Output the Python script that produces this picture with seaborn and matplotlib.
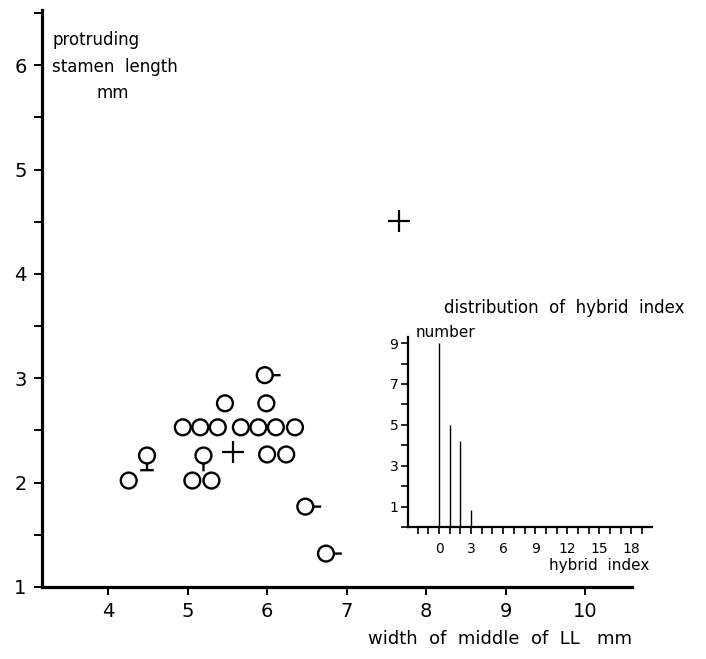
import pandas as pd
import seaborn as sns
import matplotlib.pyplot as plt
from matplotlib.path import Path
from matplotlib.ticker import MultipleLocator

# main scatter: width of middle of LL (mm) vs protruding stamen length (mm)
leaf_width = [4.26, 4.49, 5.06, 5.30, 5.20,
              4.94, 5.16, 5.38, 5.67, 5.89, 6.11, 6.35,
              5.47, 5.99, 6.00, 6.24,
              5.97, 6.48, 6.74]
stamen_length = [2.02, 2.26, 2.02, 2.02, 2.26,
                 2.53, 2.53, 2.53, 2.53, 2.53, 2.53, 2.53,
                 2.76, 2.76, 2.27, 2.27,
                 3.03, 1.77, 1.32]
symbol = ['plain', 'female', 'plain', 'plain', 'stem',
          'plain', 'plain', 'plain', 'plain', 'plain', 'plain', 'plain',
          'plain', 'plain', 'plain', 'plain',
          'dash', 'dash', 'dash']

# the two '+' points
plus_width = [5.57, 7.66]
plus_length = [2.29, 4.51]

# inset: distribution of hybrid index
hybrid_index = [0, 1, 2, 3]
hybrid_count = [9, 5, 4.2, 0.85]

scatter_df = pd.DataFrame({'width': leaf_width, 'length': stamen_length, 'symbol': symbol})
hist_df = pd.DataFrame({'index': hybrid_index, 'count': hybrid_count})


def glyph(*strokes):
    # unit circle plus extra strokes, padded so every glyph gets the same scale
    parts = [Path.unit_circle()]
    for s in strokes:
        parts.append(Path(s, [Path.MOVETO] + [Path.LINETO] * (len(s) - 1)))
    parts.append(Path([(2, 2)], [Path.MOVETO]))
    parts.append(Path([(-2, -2)], [Path.MOVETO]))
    return Path.make_compound_path(*parts)


markers = {
    'plain': glyph(),
    'dash': glyph([(1, 0), (2, 0)]),
    'stem': glyph([(0, -1), (0, -2)]),
    'female': glyph([(0, -1), (0, -1.85)], [(-0.85, -1.85), (0.85, -1.85)]),
}

sns.set_style('white')
plt.rcParams['font.family'] = ['DejaVu Sans']
plt.rcParams['text.color'] = 'black'
plt.rcParams['axes.labelcolor'] = 'black'
plt.rcParams['xtick.color'] = 'black'
plt.rcParams['ytick.color'] = 'black'

fig = plt.figure(figsize=(7.06, 6.59), dpi=100)
ax = fig.add_axes([0.0595, 0.1093, 0.836, 0.8756])

sns.scatterplot(data=scatter_df, x='width', y='length', style='symbol', markers=markers,
                s=520, facecolor='none', edgecolor='black', linewidth=1.7,
                legend=False, ax=ax)
sns.scatterplot(x=plus_width, y=plus_length, marker='+', s=230, color='black',
                linewidth=1.6, ax=ax)

ax.set_xlim(3.17, 10.59)
ax.set_ylim(1, 6.53)
ax.set_xticks(range(4, 11))
ax.set_yticks(range(1, 7))
ax.yaxis.set_minor_locator(MultipleLocator(0.5))
sns.despine(ax=ax)
for side in ['left', 'bottom']:
    ax.spines[side].set_linewidth(2.3)
    ax.spines[side].set_color('black')
ax.tick_params(which='both', direction='out', length=6, width=1.4, color='black',
               labelsize=14, left=True, bottom=True)
ax.tick_params(axis='y', pad=5)
ax.tick_params(axis='x', pad=5)
ax.set_xlabel('width  of  middle  of  LL   mm', fontsize=13, loc='right', labelpad=6)
ax.set_ylabel('')
ax.text(0.017, 0.948, 'protruding', transform=ax.transAxes, fontsize=12, va='center')
ax.text(0.017, 0.901, 'stamen  length', transform=ax.transAxes, fontsize=12, va='center')
ax.text(0.093, 0.856, 'mm', transform=ax.transAxes, fontsize=12, va='center')

# inset histogram
ins = fig.add_axes([0.578, 0.2003, 0.345, 0.2883])
sns.barplot(data=hist_df, x='index', y='count', native_scale=True, width=0.002,
            color='black', edgecolor='black', linewidth=1.0, errorbar=None, ax=ins)
ins.set_xlim(-2.9, 19.9)
ins.set_ylim(0, 9.3)
ins.set_xticks(range(0, 19, 3))
ins.xaxis.set_minor_locator(MultipleLocator(1))
ins.set_yticks(range(1, 10, 2))
ins.yaxis.set_minor_locator(MultipleLocator(1))
sns.despine(ax=ins)
for side in ['left', 'bottom']:
    ins.spines[side].set_linewidth(1.6)
    ins.spines[side].set_color('black')
ins.set_facecolor('none')
ins.tick_params(which='both', direction='out', length=5, width=1.2, color='black',
                labelsize=10, left=True, bottom=True)
ins.tick_params(axis='x', pad=6)
ins.tick_params(axis='y', pad=2)
ins.set_xlabel('')
ins.set_ylabel('')
ins.text(0.03, 0.985, 'number', transform=ins.transAxes, fontsize=11, va='bottom')
ins.text(0.643, 1.153, 'distribution  of  hybrid  index', transform=ins.transAxes,
         fontsize=12, ha='center', va='center')
ins.text(0.99, -0.205, 'hybrid  index', transform=ins.transAxes, fontsize=11,
         ha='right', va='center')

fig.savefig('out.png', dpi=100)
